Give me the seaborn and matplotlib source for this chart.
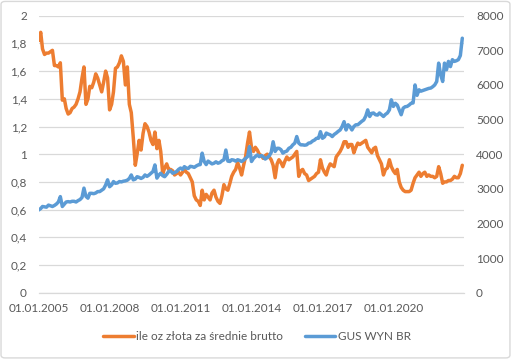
import matplotlib
matplotlib.use("Agg")
import matplotlib.pyplot as plt
from matplotlib.patches import FancyBboxPatch
import pandas as pd
import seaborn as sns

sns.set_style("white")
plt.rcParams["font.family"] = ["Lato", "DejaVu Sans"]

# Monthly series, first month 01.2005
START = "2005-01-01"
ORANGE_LABEL = "ile oz złota za średnie brutto"
BLUE_LABEL = "GUS WYN BR"

ounces = [
    1.82, 1.88, 1.76, 1.72, 1.73, 1.73, 1.74, 1.75, 1.64, 1.64, 1.63, 1.66,  # 2005
    1.39, 1.40, 1.33, 1.29, 1.30, 1.33, 1.34, 1.36, 1.40, 1.45, 1.55, 1.63,  # 2006
    1.36, 1.40, 1.49, 1.48, 1.52, 1.58, 1.55, 1.50, 1.45, 1.52, 1.60, 1.55,  # 2007
    1.32, 1.36, 1.45, 1.62, 1.63, 1.66, 1.71, 1.67, 1.50, 1.63, 1.36, 1.30,  # 2008
    1.12, 0.92, 1.00, 1.10, 1.03, 1.15, 1.22, 1.20, 1.16, 1.10, 1.07, 1.16,  # 2009
    1.04, 1.10, 1.02, 0.86, 0.90, 0.93, 0.89, 0.89, 0.88, 0.85, 0.86, 0.87,  # 2010
    0.85, 0.87, 0.89, 0.87, 0.86, 0.83, 0.80, 0.70, 0.67, 0.66, 0.63, 0.74,  # 2011
    0.67, 0.71, 0.69, 0.67, 0.72, 0.74, 0.69, 0.66, 0.645, 0.70, 0.78, 0.75,  # 2012
    0.74, 0.79, 0.84, 0.87, 0.89, 0.94, 0.90, 0.85, 0.92, 0.98, 1.08, 1.16,  # 2013
    1.05, 1.02, 1.05, 1.03, 1.00, 0.99, 0.97, 0.99, 1.00, 0.98, 0.96, 0.92,  # 2014
    0.83, 0.93, 0.96, 0.94, 0.91, 0.95, 0.98, 0.96, 0.97, 0.98, 1.00, 1.02,  # 2015
    0.84, 0.88, 0.89, 0.86, 0.85, 0.81, 0.82, 0.83, 0.84, 0.86, 0.87, 0.96,  # 2016
    0.90, 0.87, 0.85, 0.90, 0.93, 0.92, 0.91, 0.98, 1.00, 1.02, 1.05, 1.09,  # 2017
    1.09, 1.05, 1.07, 1.07, 1.01, 1.05, 1.08, 1.07, 1.08, 1.09, 1.10, 1.05,  # 2018
    1.03, 1.01, 1.04, 1.05, 0.99, 0.96, 0.93, 0.85, 0.89, 0.90, 0.96, 0.91,  # 2019
    0.88, 0.86, 0.89, 0.80, 0.76, 0.74, 0.73, 0.73, 0.73, 0.74, 0.79, 0.83,  # 2020
    0.85, 0.87, 0.84, 0.86, 0.87, 0.84, 0.85, 0.84, 0.84, 0.83, 0.84, 0.91,  # 2021
    0.86, 0.79, 0.80, 0.80, 0.81, 0.81, 0.82, 0.84, 0.83, 0.83, 0.86, 0.92,  # 2022
]

wage = [
    2390, 2430, 2490, 2480, 2470, 2530, 2510, 2490, 2520, 2560, 2620, 2775,  # 2005
    2490, 2560, 2620, 2630, 2620, 2640, 2640, 2620, 2660, 2690, 2750, 3020,  # 2006
    2780, 2730, 2870, 2870, 2860, 2880, 2920, 2920, 2960, 3000, 3110, 3260,  # 2007
    3060, 3110, 3210, 3160, 3170, 3210, 3200, 3220, 3230, 3250, 3300, 3400,  # 2008
    3260, 3280, 3350, 3330, 3300, 3330, 3400, 3360, 3400, 3450, 3500, 3690,  # 2009
    3310, 3400, 3450, 3380, 3350, 3420, 3500, 3520, 3450, 3470, 3500, 3560,  # 2010
    3600, 3560, 3640, 3600, 3590, 3650, 3640, 3620, 3660, 3690, 3700, 4030,  # 2011
    3790, 3700, 3800, 3760, 3720, 3740, 3780, 3740, 3760, 3810, 3840, 4120,  # 2012
    3800, 3790, 3840, 3830, 3800, 3840, 3820, 3790, 3830, 3880, 3930, 4220,  # 2013
    3790, 3880, 3930, 3980, 3930, 3960, 3930, 3860, 3900, 3950, 4050, 4360,  # 2014
    4080, 4170, 4170, 4130, 4030, 4070, 4090, 4170, 4200, 4270, 4320, 4510,  # 2015
    4320, 4270, 4270, 4260, 4270, 4320, 4330, 4380, 4410, 4460, 4460, 4650,  # 2016
    4460, 4500, 4610, 4580, 4560, 4510, 4570, 4610, 4660, 4700, 4800, 4940,  # 2017
    4700, 4850, 4800, 4700, 4800, 4850, 4850, 4900, 4950, 4990, 5100, 5280,  # 2018
    5090, 5180, 5190, 5140, 5130, 5190, 5140, 5090, 5150, 5190, 5280, 5570,  # 2019
    5380, 5470, 5420, 5280, 5140, 5330, 5370, 5380, 5420, 5470, 5480, 6000,  # 2020
    5700, 5860, 5820, 5840, 5860, 5880, 5900, 5910, 5950, 6000, 6100, 6630,  # 2021
    6290, 6100, 6630, 6440, 6680, 6530, 6730, 6680, 6700, 6730, 6850, 7350,  # 2022
]

x_ticks = ["2005-01-01", "2008-01-01", "2011-01-01", "2014-01-01",
           "2017-01-01", "2020-01-01", "2023-01-01"]
x_labels = ["01.01.2005", "01.01.2008", "01.01.2011", "01.01.2014",
            "01.01.2017", "01.01.2020", ""]
left_ticks = [0, 0.2, 0.4, 0.6, 0.8, 1, 1.2, 1.4, 1.6, 1.8, 2]
left_labels = ["0", "0,2", "0,4", "0,6", "0,8", "1", "1,2", "1,4", "1,6", "1,8", "2"]
right_ticks = [0, 1000, 2000, 3000, 4000, 5000, 6000, 7000, 8000]

data = pd.DataFrame({
    "Data": pd.date_range(START, periods=len(ounces), freq="MS"),
    "ounces": ounces,
    "wage": wage,
})

TEXT = "#595959"
GRID = "#d9d9d9"

fig = plt.figure(figsize=(5.12, 3.59), dpi=100)
ax = fig.add_axes([38.7 / 512, 1 - 292.7 / 359, (464.3 - 38.7) / 512, (292.7 - 15.7) / 359])
ax2 = ax.twinx()

sns.lineplot(data=data, x="Data", y="ounces", color="#ED7D31", linewidth=2.5,
             solid_joinstyle="round", ax=ax, label=ORANGE_LABEL, legend=False)
sns.lineplot(data=data, x="Data", y="wage", color="#5B9BD5", linewidth=2.5,
             solid_joinstyle="round", ax=ax2, label=BLUE_LABEL, legend=False)

ax.set_xlim(pd.Timestamp("2005-01-01"), pd.Timestamp("2023-01-01"))
ax.set_ylim(0, 2)
ax2.set_ylim(0, 8000)
ax.set_xticks(pd.to_datetime(x_ticks))
ax.set_xticklabels(x_labels)
ax.set_yticks(left_ticks)
ax.set_yticklabels(left_labels)
ax2.set_yticks(right_ticks)
ax.set(xlabel="", ylabel="")
ax2.set(xlabel="", ylabel="")

ax.yaxis.grid(True, color=GRID, linewidth=0.9)
ax.xaxis.grid(False)
for a in (ax, ax2):
    for side in ("top", "left", "right"):
        a.spines[side].set_visible(False)
    a.spines["bottom"].set_color(GRID)
    a.spines["bottom"].set_linewidth(0.9)
ax2.spines["bottom"].set_visible(False)

ax.tick_params(axis="x", colors=GRID, length=3.6, width=0.9, pad=3.5,
               labelcolor=TEXT, labelsize=8.5)
ax.tick_params(axis="y", length=0, pad=8.5, labelcolor=TEXT, labelsize=8.5)
ax2.tick_params(axis="y", length=0, pad=8.5, labelcolor=TEXT, labelsize=8.5)

handles = ax.get_lines()[:1] + ax2.get_lines()[:1]
fig.legend(handles, [ORANGE_LABEL, BLUE_LABEL], loc="center",
           bbox_to_anchor=(257 / 512, 1 - 337 / 359), ncol=2, frameon=False,
           fontsize=8.5, labelcolor=TEXT, handlelength=2.6, handletextpad=0.2,
           columnspacing=1.8)

fig.patches.append(FancyBboxPatch((0.002, 0.003), 0.994, 0.993,
                                  boxstyle="round,pad=0,rounding_size=0.008",
                                  transform=fig.transFigure, fill=False,
                                  edgecolor=GRID, linewidth=1))

fig.savefig("out.png", dpi=100)
